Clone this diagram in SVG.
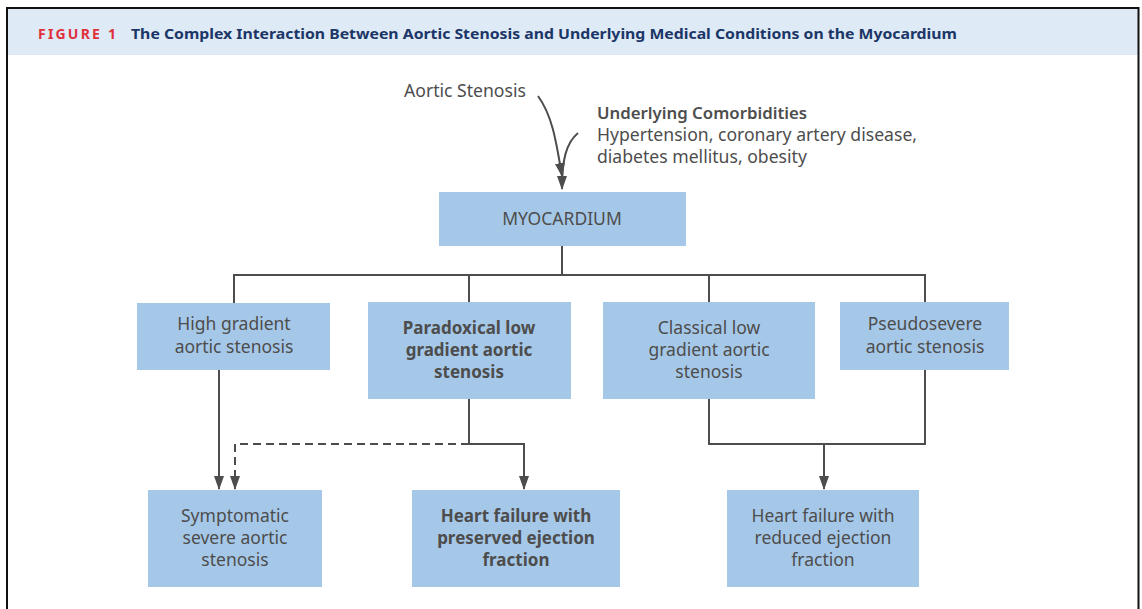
<svg xmlns="http://www.w3.org/2000/svg" width="1142" height="609" viewBox="0 0 1142 609">
<defs>
<style>
.box{fill:#a6c8e8}
.t{font-family:"Noto Sans","Open Sans",sans-serif;font-size:17.5px;fill:#4d4d4d;text-anchor:middle}
.b{font-weight:bold;font-size:17px}
.l{font-family:"Noto Sans","Open Sans",sans-serif;font-size:17.6px;fill:#4d4d4d}
.h{font-weight:600;font-size:16.8px}
.c{fill:none;stroke:#4d4d4d;stroke-width:2}
.d{stroke-dasharray:8 5}
</style>
<marker id="arr" viewBox="0 0 14 10" refX="13" refY="5" markerWidth="14" markerHeight="10" markerUnits="userSpaceOnUse" orient="auto">
<path d="M0,0 L14,5 L0,10 Z" fill="#4d4d4d"/>
</marker>
</defs>
<rect x="0" y="0" width="1142" height="609" fill="#fff"/>
<rect x="8" y="9" width="1130" height="46" fill="#deeaf6"/>
<path d="M7,609 V8 H1138.5 V609" fill="none" stroke="#111" stroke-width="2"/>
<g id="title">
<text x="38" y="39" font-family="'Noto Sans','Open Sans',sans-serif" font-size="14" font-weight="bold" fill="#e0313b" letter-spacing="2.2">FIGURE 1</text>
<text x="131" y="39" font-family="'Noto Sans','Open Sans',sans-serif" font-size="15" font-weight="bold" fill="#1b3667" textLength="826" lengthAdjust="spacingAndGlyphs">The Complex Interaction Between Aortic Stenosis and Underlying Medical Conditions on the Myocardium</text>
</g>
<g id="connectors">
<path class="c" d="M538,96 C552,115 556,140 562,176" marker-end="url(#arr)"/>
<path class="c" d="M578,133 C566,143 562,160 562,189" marker-end="url(#arr)"/>
<path class="c" d="M562,246 V275 M234,303 V275 H925 V302 M469,275 V302 M709,275 V302"/>
<path class="c" d="M219,370 V489" marker-end="url(#arr)"/>
<path class="c d" d="M469,444 H235 V489" marker-end="url(#arr)"/>
<path class="c" d="M469,399 V444 H524 V489" marker-end="url(#arr)"/>
<path class="c" d="M709,399 V444 H925 V370"/>
<path class="c" d="M824,444 V489" marker-end="url(#arr)"/>
</g>
<g id="aortic-stenosis">
<text class="l" x="404" y="97">Aortic Stenosis</text>
</g>
<g id="comorbidities">
<text class="l h" x="597" y="119">Underlying Comorbidities</text>
<text class="l" x="597" y="141">Hypertension, coronary artery disease,</text>
<text class="l" x="597" y="163">diabetes mellitus, obesity</text>
</g>
<g id="myocardium">
<rect class="box" x="439" y="192" width="247" height="54"/>
<text class="t" x="562" y="225">MYOCARDIUM</text>
</g>
<g id="high-gradient">
<rect class="box" x="137" y="303" width="193" height="67"/>
<text class="t" x="234" y="330">High gradient</text>
<text class="t" x="234" y="353">aortic stenosis</text>
</g>
<g id="paradoxical">
<rect class="box" x="368" y="302" width="203" height="97"/>
<text class="t b" x="469" y="334">Paradoxical low</text>
<text class="t b" x="469" y="356">gradient aortic</text>
<text class="t b" x="469" y="378">stenosis</text>
</g>
<g id="classical">
<rect class="box" x="603" y="302" width="212" height="97"/>
<text class="t" x="709" y="334">Classical low</text>
<text class="t" x="709" y="356">gradient aortic</text>
<text class="t" x="709" y="378">stenosis</text>
</g>
<g id="pseudosevere">
<rect class="box" x="840" y="302" width="169" height="68"/>
<text class="t" x="925" y="330">Pseudosevere</text>
<text class="t" x="925" y="353">aortic stenosis</text>
</g>
<g id="symptomatic">
<rect class="box" x="148" y="490" width="174" height="97"/>
<text class="t" x="235" y="522">Symptomatic</text>
<text class="t" x="235" y="544">severe aortic</text>
<text class="t" x="235" y="566">stenosis</text>
</g>
<g id="hfpef">
<rect class="box" x="412" y="490" width="208" height="97"/>
<text class="t b" x="516" y="522">Heart failure with</text>
<text class="t b" x="516" y="544">preserved ejection</text>
<text class="t b" x="516" y="566">fraction</text>
</g>
<g id="hfref">
<rect class="box" x="727" y="490" width="192" height="97"/>
<text class="t" x="823" y="522">Heart failure with</text>
<text class="t" x="823" y="544">reduced ejection</text>
<text class="t" x="823" y="566">fraction</text>
</g>
</svg>
